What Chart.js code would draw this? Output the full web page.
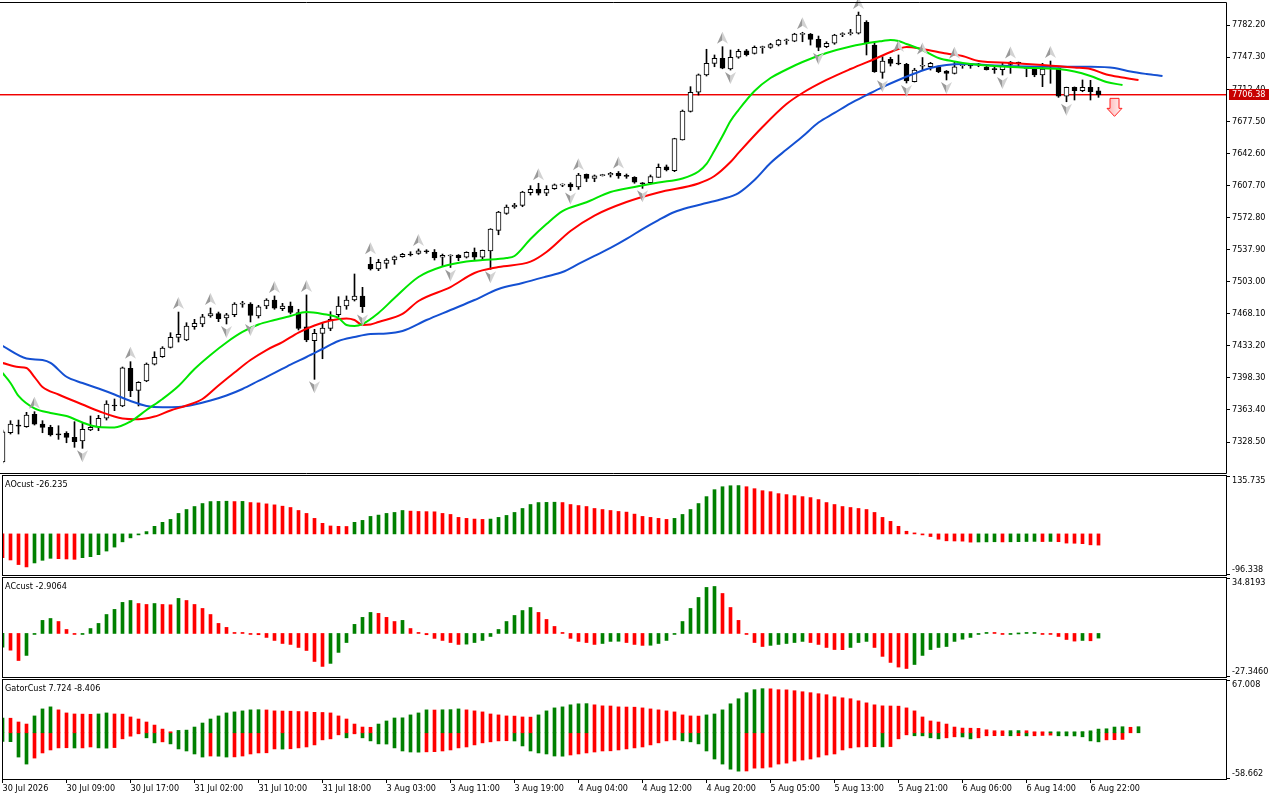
<!DOCTYPE html>
<html>
<head>
<meta charset="utf-8">
<script src="https://cdn.jsdelivr.net/npm/chart.js@4.4.1/dist/chart.umd.min.js"></script>
<style>
  html, body { margin: 0; padding: 0; background: #fff; }
  #wrap { position: relative; width: 1280px; height: 800px; overflow: hidden; background: #fff; }
  canvas { position: absolute; left: 0; }
</style>
</head>
<body>
<div id="wrap">
  <canvas id="mainChart" width="1280" height="474" style="top:0px"></canvas>
  <canvas id="aoChart" width="1280" height="102" style="top:474px"></canvas>
  <canvas id="acChart" width="1280" height="102" style="top:576px"></canvas>
  <canvas id="gatorChart" width="1280" height="122" style="top:678px"></canvas>
</div>
<script>
// ---- data (H1 bars, index 0 = 30 Jul 01:00) ----
const open = [7306.7,7338.6,7347.0,7345.1,7358.6,7348.1,7344.5,7337.5,7338.0,7333.6,
  7329.6,7341.6,7345.1,7354.3,7368.8,7367.7,7408.7,7384.7,7394.9,7413.1,
  7421.3,7431.5,7442.4,7439.5,7453.9,7456.9,7465.6,7468.1,7463.4,7467.0,
  7478.6,7478.6,7465.6,7476.5,7483.0,7473.5,7476.5,7469.2,7453.9,7438.7,
  7446.7,7452.2,7467.0,7476.5,7483.0,7487.4,7521.8,7516.7,7522.9,7526.5,
  7530.1,7533.0,7533.8,7536.6,7534.9,7529.5,7530.9,7532.0,7529.5,7534.9,
  7529.5,7536.3,7558.8,7577.3,7584.2,7586.0,7599.7,7603.4,7599.1,7604.1,
  7608.0,7609.2,7605.9,7619.8,7615.4,7618.4,7619.0,7620.8,7618.5,7616.5,
  7610.3,7610.6,7616.5,7628.0,7623.7,7657.1,7688.3,7709.0,7727.8,7740.5,
  7746.0,7734.3,7747.1,7754.2,7751.4,7757.6,7757.9,7760.4,7765.1,7764.5,
  7772.0,7772.4,7766.6,7758.6,7762.3,7771.7,7772.9,7773.2,7785.1,7760.4,
  7730.7,7744.9,7740.8,7739.4,7720.5,7737.3,7736.8,7736.8,7732.2,7729.6,
  7737.9,7738.6,7739.0,7736.5,7734.7,7733.6,7741.9,7741.5,7735.0,7734.3,
  7727.8,7736.9,7735.1,7704.9,7714.4,7710.7,7714.4,7710.7];
const high = [7341.6,7351.7,7352.4,7360.8,7361.5,7351.7,7346.7,7346.2,7339.7,7350.6,
  7348.8,7356.8,7357.5,7373.4,7375.3,7410.1,7415.9,7394.1,7414.5,7426.7,
  7432.2,7447.4,7469.9,7458.3,7462.0,7467.4,7474.3,7469.9,7468.5,7480.1,
  7481.6,7480.1,7477.2,7484.4,7487.4,7479.4,7480.8,7472.9,7488.5,7451.1,
  7458.3,7470.3,7486.6,7487.4,7511.3,7496.8,7529.5,7527.3,7528.1,7530.9,
  7533.8,7535.5,7538.5,7537.7,7537.9,7533.0,7532.2,7532.4,7535.5,7539.6,
  7537.4,7560.6,7579.5,7586.4,7588.2,7601.3,7607.4,7610.0,7607.4,7609.2,
  7609.4,7610.6,7620.8,7620.1,7619.0,7619.8,7621.9,7622.8,7620.1,7617.2,
  7610.8,7619.0,7631.0,7629.9,7659.0,7689.7,7715.1,7728.9,7755.8,7749.6,
  7758.6,7755.0,7755.8,7755.6,7759.4,7759.2,7762.3,7766.6,7767.0,7773.2,
  7774.3,7773.0,7770.2,7764.0,7772.1,7773.8,7777.5,7796.3,7786.9,7762.3,
  7747.7,7747.1,7749.6,7740.5,7735.1,7746.8,7741.6,7737.6,7732.7,7742.3,
  7740.5,7739.5,7740.5,7738.3,7736.8,7740.5,7742.5,7741.9,7736.8,7735.1,
  7740.5,7743.0,7735.4,7714.6,7714.8,7722.4,7722.0,7714.4];
const low = [7305.7,7337.2,7337.2,7344.5,7347.0,7338.6,7335.0,7331.4,7327.7,7322.7,
  7321.6,7340.8,7340.8,7352.4,7362.6,7366.9,7377.8,7367.7,7394.1,7412.3,
  7420.6,7430.8,7437.3,7438.7,7451.1,7453.9,7464.2,7459.4,7456.9,7464.8,
  7475.1,7459.1,7463.4,7473.5,7472.9,7471.4,7467.8,7450.4,7437.6,7396.7,
  7419.1,7449.6,7464.8,7472.9,7481.9,7469.4,7515.6,7514.9,7517.5,7521.8,
  7529.5,7530.9,7532.7,7533.8,7526.5,7520.0,7518.4,7525.8,7528.7,7526.5,
  7526.5,7516.4,7554.0,7576.2,7582.8,7584.5,7597.2,7597.2,7596.5,7603.4,
  7606.3,7602.1,7603.4,7611.7,7611.7,7617.9,7616.8,7615.4,7615.4,7610.0,
  7604.5,7609.2,7616.5,7623.4,7622.6,7657.0,7687.5,7706.0,7726.7,7736.8,
  7734.6,7733.2,7746.0,7748.5,7750.6,7751.4,7756.8,7759.4,7761.2,7764.0,
  7764.0,7760.4,7754.2,7757.5,7761.2,7769.5,7771.3,7772.4,7749.6,7730.7,
  7724.2,7737.6,7738.9,7719.1,7720.2,7733.2,7733.2,7730.3,7722.4,7728.9,
  7735.1,7735.1,7736.8,7733.2,7729.6,7727.8,7729.6,7736.8,7725.9,7725.9,
  7715.1,7718.8,7703.5,7698.7,7700.6,7709.6,7700.6,7703.5];
const close = [7339.7,7348.1,7345.6,7357.9,7347.8,7344.5,7336.1,7336.3,7333.6,7328.8,
  7342.3,7344.5,7354.3,7369.8,7367.7,7409.3,7384.3,7393.5,7413.4,7420.6,
  7430.8,7442.4,7445.7,7454.7,7457.6,7464.8,7468.1,7462.6,7467.0,7478.6,
  7479.7,7466.3,7475.7,7483.0,7474.0,7476.5,7469.6,7452.2,7439.5,7446.7,
  7452.5,7462.0,7476.5,7483.0,7487.4,7475.7,7516.7,7524.0,7526.5,7530.1,
  7532.7,7532.0,7536.6,7535.5,7528.7,7531.6,7531.9,7529.0,7534.9,7529.5,
  7537.1,7560.2,7578.7,7584.2,7586.4,7600.5,7603.4,7599.1,7603.4,7608.4,
  7609.0,7605.9,7619.0,7615.4,7618.2,7619.4,7620.8,7617.9,7617.5,7611.1,
  7609.3,7617.2,7627.4,7624.4,7658.5,7688.6,7709.0,7728.1,7740.5,7746.0,
  7735.1,7747.1,7753.6,7749.9,7757.9,7758.6,7760.8,7765.9,7766.1,7772.4,
  7773.0,7766.6,7757.9,7762.3,7771.3,7772.7,7773.9,7793.1,7762.3,7731.4,
  7743.0,7740.5,7739.8,7721.3,7733.2,7738.3,7740.5,7731.4,7729.6,7736.8,
  7738.9,7737.6,7740.0,7733.6,7733.7,7738.3,7739.4,7740.5,7736.0,7727.8,
  7734.3,7738.0,7704.9,7714.4,7710.7,7714.4,7709.6,7706.38];

// alligator lines, read at the listed bars (already shifted forward)
const jawBars = [0,3,5,6,8,10,12,14,16,18,20,22,24,26,28,30,32,34,36,38,40,42,44,46,48,50,53,56,59,62,65,68,70,72,74,76,78,80,82,84,86,88,90,92,94,96,98,100,102,104,106,108,110,112,114,116,118,120,124,128,132,136,139,141,143,145];
const jawValues = [7433.0,7419.4,7417.7,7414.5,7399.5,7392.7,7386.7,7380.2,7373.1,7367.7,7366.3,7366.6,7369.3,7373.6,7379.1,7386.2,7394.9,7403.6,7412.8,7421.0,7429.7,7438.4,7442.7,7446.0,7446.6,7449.3,7461.2,7472.1,7483.0,7495.0,7501.5,7508.6,7513.5,7522.2,7530.9,7539.6,7549.4,7560.2,7570.0,7578.7,7584.2,7588.5,7592.9,7599.4,7613.6,7632.1,7646.7,7660.9,7676.1,7686.5,7697.0,7706.0,7714.7,7722.4,7729.4,7735.4,7738.7,7739.8,7738.1,7737.0,7736.8,7736.7,7735.4,7731.6,7728.9,7726.7];
const teethBars = [0,2,3,4,5,7,10,12,15,17,19,21,23,25,27,29,31,33,35,37,39,41,43,44,45,46,47,50,52,56,59,62,66,68,71,74,78,82,87,89,91,92,95,98,100,103,106,109,112,113,115,118,120,122,126,130,134,136,138,140,142];
const teethValues = [7414.5,7410.1,7409.0,7399.2,7388.3,7380.2,7369.3,7362.2,7354.1,7353.2,7356.2,7362.8,7368.2,7375.3,7390.0,7404.1,7417.7,7428.6,7437.3,7447.6,7455.3,7460.7,7462.9,7461.2,7455.8,7456.3,7459.1,7467.8,7481.9,7497.1,7512.4,7518.9,7524.7,7535.2,7558.1,7574.9,7589.6,7600.0,7609.8,7617.9,7633.1,7643.0,7671.2,7696.2,7708.2,7722.4,7734.3,7745.2,7756.1,7758.3,7756.1,7751.2,7748.5,7743.0,7740.9,7738.7,7736.0,7734.3,7728.3,7725.1,7722.4];
const lipsBars = [0,1,2,4,6,8,10,12,14,16,18,20,22,24,26,28,30,32,34,36,38,40,42,43,44,45,47,49,52,55,58,60,63,64,66,68,70,73,76,79,82,85,87,88,89,90,91,92,94,96,98,100,103,106,109,110,111,112,113,115,117,119,121,125,129,132,134,136,138,140];
const lipsValues = [7403.6,7392.7,7378.6,7365.0,7360.1,7356.8,7349.7,7344.8,7344.3,7350.8,7363.3,7375.3,7389.4,7407.9,7423.2,7436.8,7448.2,7456.3,7461.2,7465.6,7469.9,7467.8,7463.4,7455.8,7454.7,7456.9,7468.9,7485.2,7508.0,7519.4,7524.9,7526.5,7528.7,7530.9,7549.4,7565.7,7579.8,7589.3,7600.5,7606.0,7610.8,7615.2,7622.8,7631.0,7645.7,7661.4,7677.8,7689.7,7710.4,7724.5,7733.8,7741.9,7751.7,7758.8,7763.7,7764.8,7765.9,7764.8,7761.5,7755.0,7746.3,7742.5,7739.8,7737.0,7735.4,7734.3,7731.6,7726.7,7720.2,7716.9];

const fractalUpBars = [4,16,22,26,34,38,46,52,67,72,77,90,100,107,112,115,119,126,131];
const fractalDownBars = [10,28,31,39,45,56,61,71,80,91,102,110,113,118,125,133];
const signalBar = 139;
const signalPrice = 7702.4;
const lastPrice = 7706.38;

const priceTicks = [7782.20,7747.30,7712.40,7677.50,7642.60,7607.70,7572.80,7537.90,7503.00,7468.10,7433.20,7398.30,7363.40,7328.50];
const priceRange = [7294.78, 7806.14];

const aoValues = [-55.7,-61.1,-71.9,-77.4,-68.1,-61.9,-57.2,-58.0,-58.8,-59.6,
  -55.7,-53.4,-48.7,-40.2,-30.9,-18.6,-9.3,-1.5,5.4,17.8,
  27.1,34.0,48.0,57.2,64.2,71.2,75.8,76.2,76.6,75.8,
  76.2,73.5,72.7,70.4,68.1,65.0,61.9,54.9,48.0,36.4,
  24.8,18.6,17.8,17.4,27.1,31.7,41.0,44.1,48.0,50.3,
  54.9,53.4,52.6,52.2,51.8,48.0,45.6,38.7,36.4,34.8,
  34.0,34.8,38.7,43.3,50.3,59.6,68.9,73.5,73.9,74.3,
  73.5,68.9,66.5,64.2,59.6,57.2,54.9,52.6,51.1,46.4,
  41.0,38.7,36.4,34.0,36.4,45.6,57.2,71.2,87.4,103.7,
  110.6,112.9,113.3,110.6,106.0,101.3,99.0,94.4,92.1,89.7,
  87.4,85.1,80.5,73.5,68.9,64.2,61.9,59.6,57.2,50.3,
  38.7,29.4,17.8,6.2,0.8,-0.8,-6.2,-12.4,-16.2,-16.6,
  -17.0,-19.3,-19.0,-18.7,-18.4,-18.8,-18.5,-18.2,-17.9,-17.6,
  -18.0,-17.7,-18.3,-21.5,-21.9,-22.9,-25.6,-26.235];
const aoRange = [-96.338, 135.735];

const acValues = [-8.6,-10.5,-17.0,-13.8,-0.2,8.2,9.4,7.5,2.5,-0.2,
  -0.1,3.1,6.3,11.9,15.1,19.5,20.7,18.8,18.2,18.8,
  18.2,18.0,22.0,20.7,18.2,15.7,11.9,6.3,3.8,0.2,
  0.1,-0.1,-0.8,-2.5,-4.4,-6.3,-6.9,-8.8,-10.7,-17.6,
  -20.7,-18.8,-11.9,-5.7,5.7,10.1,13.2,12.6,10.1,7.5,
  8.2,3.1,0.6,-0.8,-3.1,-4.4,-5.7,-6.9,-6.7,-5.7,
  -4.4,-1.9,2.5,7.5,11.3,14.4,16.3,13.2,8.8,4.4,
  0.2,-3.1,-5.0,-5.7,-6.9,-6.3,-5.0,-4.9,-5.7,-6.9,
  -7.5,-7.4,-6.3,-4.4,-0.1,7.5,15.7,22.6,28.9,29.5,
  25.1,16.3,8.2,-0.2,-5.7,-8.2,-7.5,-6.9,-6.3,-5.7,
  -5.0,-5.7,-6.9,-8.8,-10.1,-10.2,-8.8,-5.7,-5.0,-8.8,
  -14.4,-18.2,-21.1,-22.0,-19.5,-13.8,-10.1,-8.8,-8.2,-5.0,
  -3.6,-2.5,-0.2,0.6,0.5,-0.2,-0.1,0.0,0.05,0.1,
  -0.2,-0.4,-1.9,-3.8,-4.8,-4.4,-4.6,-2.9064];
const acRange = [-27.3460, 34.8193];

const gatorUpper = [18.8,18.5,13.7,11.1,21.4,30.3,32.9,29.1,25.2,23.9,
  23.7,23.5,23.9,25.2,23.9,23.7,20.1,17.5,13.7,9.8,
  4.7,0.3,3.0,3.4,7.3,12.4,17.5,21.4,25.2,26.5,
  27.8,29.1,29.3,29.0,27.8,27.6,27.4,27.0,26.8,26.0,
  25.8,25.2,21.4,17.5,11.1,7.3,7.0,11.1,15.0,18.8,
  19.0,22.7,25.2,29.1,28.9,29.2,29.4,30.3,29.1,27.8,
  26.5,23.9,22.7,21.4,21.2,20.1,19.9,22.7,27.8,31.6,
  32.9,35.5,36.8,37.0,35.5,34.2,34.0,32.9,32.7,32.5,
  31.6,30.3,29.1,27.8,26.5,22.7,21.4,21.2,22.7,23.9,
  29.1,36.8,43.2,50.9,54.7,56.0,55.8,54.7,54.5,53.4,
  52.1,50.9,49.6,48.3,45.7,44.4,43.2,40.6,38.0,35.5,
  34.2,34.0,33.8,31.6,27.8,20.1,15.0,13.7,11.1,7.3,
  6.0,5.8,5.6,3.8,2.6,2.5,2.7,2.8,2.6,1.3,
  0.4,0.6,0.9,1.0,1.2,1.5,2.5,4.7,5.1,7.3,
  7.7,7.0,7.724];
const gatorLower = [-11.1,-11.3,-30.8,-39.7,-32.1,-25.6,-21.8,-19.2,-19.0,-19.3,
  -19.2,-18.0,-19.2,-19.5,-18.8,-7.7,-4.3,-1.3,-6.4,-12.8,
  -11.5,-14.1,-20.5,-23.1,-26.9,-30.8,-29.5,-29.7,-30.8,-30.6,
  -29.5,-26.9,-25.6,-25.4,-20.5,-20.7,-20.3,-19.2,-18.0,-15.4,
  -9.0,-7.7,-2.6,-6.4,-1.3,-6.4,-10.3,-14.1,-14.3,-19.2,
  -23.1,-24.4,-24.6,-24.2,-24.0,-23.1,-21.8,-19.2,-18.0,-15.4,
  -12.8,-11.5,-10.3,-10.1,-10.4,-16.7,-23.1,-25.6,-26.9,-29.5,
  -29.7,-28.2,-26.9,-25.6,-24.4,-23.1,-22.9,-21.8,-20.5,-19.2,
  -18.0,-15.4,-12.8,-10.3,-9.0,-10.3,-11.5,-14.1,-23.1,-33.3,
  -39.7,-46.2,-48.7,-48.5,-44.9,-44.7,-43.6,-39.7,-38.5,-35.9,
  -34.6,-33.3,-30.8,-28.2,-26.9,-21.8,-19.2,-18.0,-17.8,-17.6,
  -18.0,-17.5,-7.7,-2.6,-3.8,-3.9,-6.4,-7.7,-6.4,-5.1,
  -5.3,-7.7,-6.4,-3.8,-3.7,-3.6,-3.8,-3.7,-3.9,-3.8,
  -3.4,-3.0,-3.8,-3.9,-4.0,-5.1,-10.3,-11.5,-9.0,-8.8,
  -8.406];
const gatorRange = [-58.662, 67.008];

const labelBars = [0,8,16,24,32,40,48,56,64,72,80,88,96,104,112,120,128,136];
const timeLabels = ['30 Jul 2026','30 Jul 09:00','30 Jul 17:00','31 Jul 02:00','31 Jul 10:00','31 Jul 18:00',
  '3 Aug 03:00','3 Aug 11:00','3 Aug 19:00','4 Aug 04:00','4 Aug 12:00','4 Aug 20:00',
  '5 Aug 05:00','5 Aug 13:00','5 Aug 21:00','6 Aug 06:00','6 Aug 14:00','6 Aug 22:00'];

// ---- look ----
const GREEN = '#008000';
const RED = '#ff0000';
const FAMILY = '"DejaVu Sans Condensed", "Liberation Sans", sans-serif';
const FONT_CSS = '9px ' + FAMILY;
const X_MIN = 0.0625, X_MAX = 152.9375;   // 8 px per bar
const AXIS_W = 54;

Chart.defaults.font.family = FAMILY;
Chart.defaults.font.size = 9;
Chart.defaults.color = '#000';

const toXY = (xs, ys) => xs.map((x, i) => ({ x: x, y: ys[i] }));
const trendColors = (vals, first) => vals.map((v, i) => i === 0 ? first : (v > vals[i - 1] ? GREEN : RED));
const gatorColors = (vals) => vals.map((v, i) => i === 0 ? GREEN : (Math.abs(v) > Math.abs(vals[i - 1]) ? GREEN : RED));

const fixAxisWidth = s => { s.width = AXIS_W; s.paddingTop = 0; s.paddingBottom = 0; };

const hiddenX = { type: 'linear', min: X_MIN, max: X_MAX, offset: false, display: false, grid: { offset: false } };

const baseOptions = (padding) => ({
  responsive: false,
  animation: false,
  events: [],
  layout: { padding: padding },
  plugins: { legend: { display: false }, tooltip: { enabled: false } }
});

function drawFractal(ctx, x, y, up) {
  ctx.save();
  ctx.translate(x, y);
  if (!up) ctx.scale(1, -1);
  ctx.beginPath();
  ctx.moveTo(0, -6); ctx.lineTo(-5.5, 6); ctx.lineTo(0, 2.5); ctx.closePath();
  ctx.fillStyle = '#9a9a9a'; ctx.fill();
  ctx.beginPath();
  ctx.moveTo(0, -6); ctx.lineTo(5.5, 6); ctx.lineTo(0, 2.5); ctx.closePath();
  ctx.fillStyle = '#d2d2d2'; ctx.fill();
  ctx.restore();
}

function drawSignal(ctx, x, top) {
  ctx.save();
  ctx.beginPath();
  ctx.moveTo(x - 4.5, top); ctx.lineTo(x + 4.5, top); ctx.lineTo(x + 4.5, top + 10);
  ctx.lineTo(x + 7.5, top + 10); ctx.lineTo(x, top + 18); ctx.lineTo(x - 7.5, top + 10);
  ctx.lineTo(x - 4.5, top + 10); ctx.closePath();
  const g = ctx.createLinearGradient(x - 7, 0, x + 7, 0);
  g.addColorStop(0, '#ffb4b4'); g.addColorStop(1, '#fff2f2');
  ctx.fillStyle = g; ctx.fill();
  ctx.strokeStyle = '#ff2020'; ctx.lineWidth = 1; ctx.stroke();
  ctx.restore();
}

const mainDecor = {
  id: 'mainDecor',
  beforeDatasetsDraw(chart) {
    // bid line, under the candles
    const { ctx, chartArea: a, scales } = chart;
    const py = Math.round(scales.y.getPixelForValue(lastPrice));
    ctx.save();
    ctx.fillStyle = '#f00000';
    ctx.fillRect(0, py - 1, a.right, 1);
    ctx.fillStyle = 'rgba(240, 0, 0, 0.45)';
    ctx.fillRect(0, py, a.right, 1);
    ctx.restore();
  },
  afterDatasetsDraw(chart) {
    const { ctx, scales } = chart;
    fractalUpBars.forEach(b => drawFractal(ctx, scales.x.getPixelForValue(b), scales.y.getPixelForValue(high[b]) - 9, true));
    fractalDownBars.forEach(b => drawFractal(ctx, scales.x.getPixelForValue(b), scales.y.getPixelForValue(low[b]) + 8, false));
    drawSignal(ctx, scales.x.getPixelForValue(signalBar), scales.y.getPixelForValue(signalPrice));
  },
  afterDraw(chart) {
    const { ctx, chartArea: a, scales } = chart;
    ctx.save();
    ctx.strokeStyle = '#000'; ctx.lineWidth = 1;
    ctx.beginPath();
    ctx.moveTo(0, a.top - 0.5); ctx.lineTo(a.right + 0.5, a.top - 0.5);
    ctx.lineTo(a.right + 0.5, a.bottom + 0.5); ctx.lineTo(0, a.bottom + 0.5);
    ctx.stroke();
    const py = Math.round(scales.y.getPixelForValue(lastPrice));
    ctx.fillStyle = '#c80000';
    ctx.fillRect(a.right + 3, py - 6, 40, 11);
    ctx.fillStyle = '#fff'; ctx.font = FONT_CSS;
    ctx.textBaseline = 'middle'; ctx.textAlign = 'left';
    ctx.fillText(lastPrice.toFixed(2), a.right + 6, py - 0.5);
    ctx.restore();
  }
};

function panelDecor(title, range, digits) {
  return {
    id: 'panelDecor',
    afterDraw(chart) {
      const { ctx, chartArea: a } = chart;
      ctx.save();
      ctx.strokeStyle = '#000'; ctx.lineWidth = 1;
      ctx.strokeRect(a.left - 0.5, a.top - 0.5, a.right - a.left + 1, a.bottom - a.top + 1);
      ctx.beginPath();
      ctx.moveTo(a.right, a.top + 0.5); ctx.lineTo(a.right + 4, a.top + 0.5);
      ctx.moveTo(a.right, a.bottom - 0.5); ctx.lineTo(a.right + 4, a.bottom - 0.5);
      ctx.stroke();
      ctx.fillStyle = '#000'; ctx.font = FONT_CSS; ctx.textAlign = 'left';
      ctx.textBaseline = 'top';
      ctx.fillText(title, a.left + 2, a.top + 4);
      ctx.fillText(range[1].toFixed(digits), a.right + 6, a.top);
      ctx.textBaseline = 'alphabetic';
      ctx.fillText(range[0].toFixed(digits), a.right + 6, a.bottom - 3);
      ctx.restore();
    }
  };
}

const subY = (range) => ({
  position: 'right', min: range[0], max: range[1],
  afterFit: fixAxisWidth,
  ticks: { display: false },
  grid: { display: false },
  border: { display: false }
});

const histogram = (vals, colors) => ({
  type: 'bar',
  data: vals.map((v, i) => ({ x: i, y: v })),
  backgroundColor: colors,
  barThickness: 3,
  minBarLength: 1,
  grouped: false
});

// ---- main price chart ----
new Chart(document.getElementById('mainChart'), {
  type: 'bar',
  data: {
    datasets: [
      { type: 'line', data: toXY(lipsBars, lipsValues), borderColor: '#00e600', borderWidth: 2, pointRadius: 0, cubicInterpolationMode: 'monotone', order: 1 },
      { type: 'line', data: toXY(teethBars, teethValues), borderColor: '#ff0000', borderWidth: 2, pointRadius: 0, cubicInterpolationMode: 'monotone', order: 1 },
      { type: 'line', data: toXY(jawBars, jawValues), borderColor: '#1450d2', borderWidth: 2, pointRadius: 0, cubicInterpolationMode: 'monotone', order: 1 },
      {
        type: 'bar',
        data: open.map((o, i) => ({ x: i, y: [o, close[i]] })),
        backgroundColor: open.map((o, i) => close[i] >= o ? '#ffffff' : '#000000'),
        borderColor: '#000', borderWidth: 1, borderSkipped: false,
        barThickness: 5, minBarLength: 1, grouped: false, order: 2
      },
      {
        type: 'bar',
        data: low.map((l, i) => ({ x: i, y: [l, high[i]] })),
        backgroundColor: '#000', borderWidth: 0,
        barThickness: 1, grouped: false, order: 3
      }
    ]
  },
  options: Object.assign(baseOptions({ left: 3, top: 3, right: 0, bottom: 1 }), {
    scales: {
      x: hiddenX,
      y: {
        position: 'right', min: priceRange[0], max: priceRange[1],
        afterBuildTicks: s => { s.ticks = priceTicks.map(v => ({ value: v })); },
        afterFit: fixAxisWidth,
        ticks: { callback: v => v.toFixed(2), padding: 2, autoSkip: false, color: '#000' },
        grid: { drawOnChartArea: false, drawTicks: true, tickLength: 4, color: '#000' },
        border: { display: false }
      }
    }
  }),
  plugins: [mainDecor]
});

// ---- AO ----
new Chart(document.getElementById('aoChart'), {
  type: 'bar',
  data: { datasets: [histogram(aoValues, trendColors(aoValues, RED))] },
  options: Object.assign(baseOptions({ left: 3, top: 2, right: 0, bottom: 1 }), {
    scales: { x: hiddenX, y: subY(aoRange) }
  }),
  plugins: [panelDecor('AOcust ' + aoValues[aoValues.length - 1], aoRange, 3)]
});

// ---- AC ----
new Chart(document.getElementById('acChart'), {
  type: 'bar',
  data: { datasets: [histogram(acValues, trendColors(acValues, GREEN))] },
  options: Object.assign(baseOptions({ left: 3, top: 2, right: 0, bottom: 1 }), {
    scales: { x: hiddenX, y: subY(acRange) }
  }),
  plugins: [panelDecor('ACcust ' + acValues[acValues.length - 1], acRange, 4)]
});

// ---- Gator + time axis ----
new Chart(document.getElementById('gatorChart'), {
  type: 'bar',
  data: {
    datasets: [
      histogram(gatorUpper, trendColors(gatorUpper, GREEN)),
      histogram(gatorLower, gatorColors(gatorLower))
    ]
  },
  options: Object.assign(baseOptions({ left: 3, top: 2, right: 0, bottom: 0 }), {
    scales: {
      x: {
        type: 'linear', min: X_MIN, max: X_MAX, offset: false,
        afterBuildTicks: s => { s.ticks = labelBars.map(v => ({ value: v })); },
        afterFit: s => { s.height = 21; s.paddingLeft = 0; s.paddingRight = 0; },
        ticks: { callback: (v, i) => timeLabels[i], align: 'start', maxRotation: 0, minRotation: 0, autoSkip: false, padding: 0, color: '#000' },
        grid: { drawOnChartArea: false, drawTicks: true, tickLength: 4, color: '#000', offset: false },
        border: { display: false }
      },
      y: subY(gatorRange)
    }
  }),
  plugins: [panelDecor('GatorCust ' + gatorUpper[gatorUpper.length - 1] + ' ' + gatorLower[gatorLower.length - 1], gatorRange, 3)]
});
</script>
</body>
</html>
